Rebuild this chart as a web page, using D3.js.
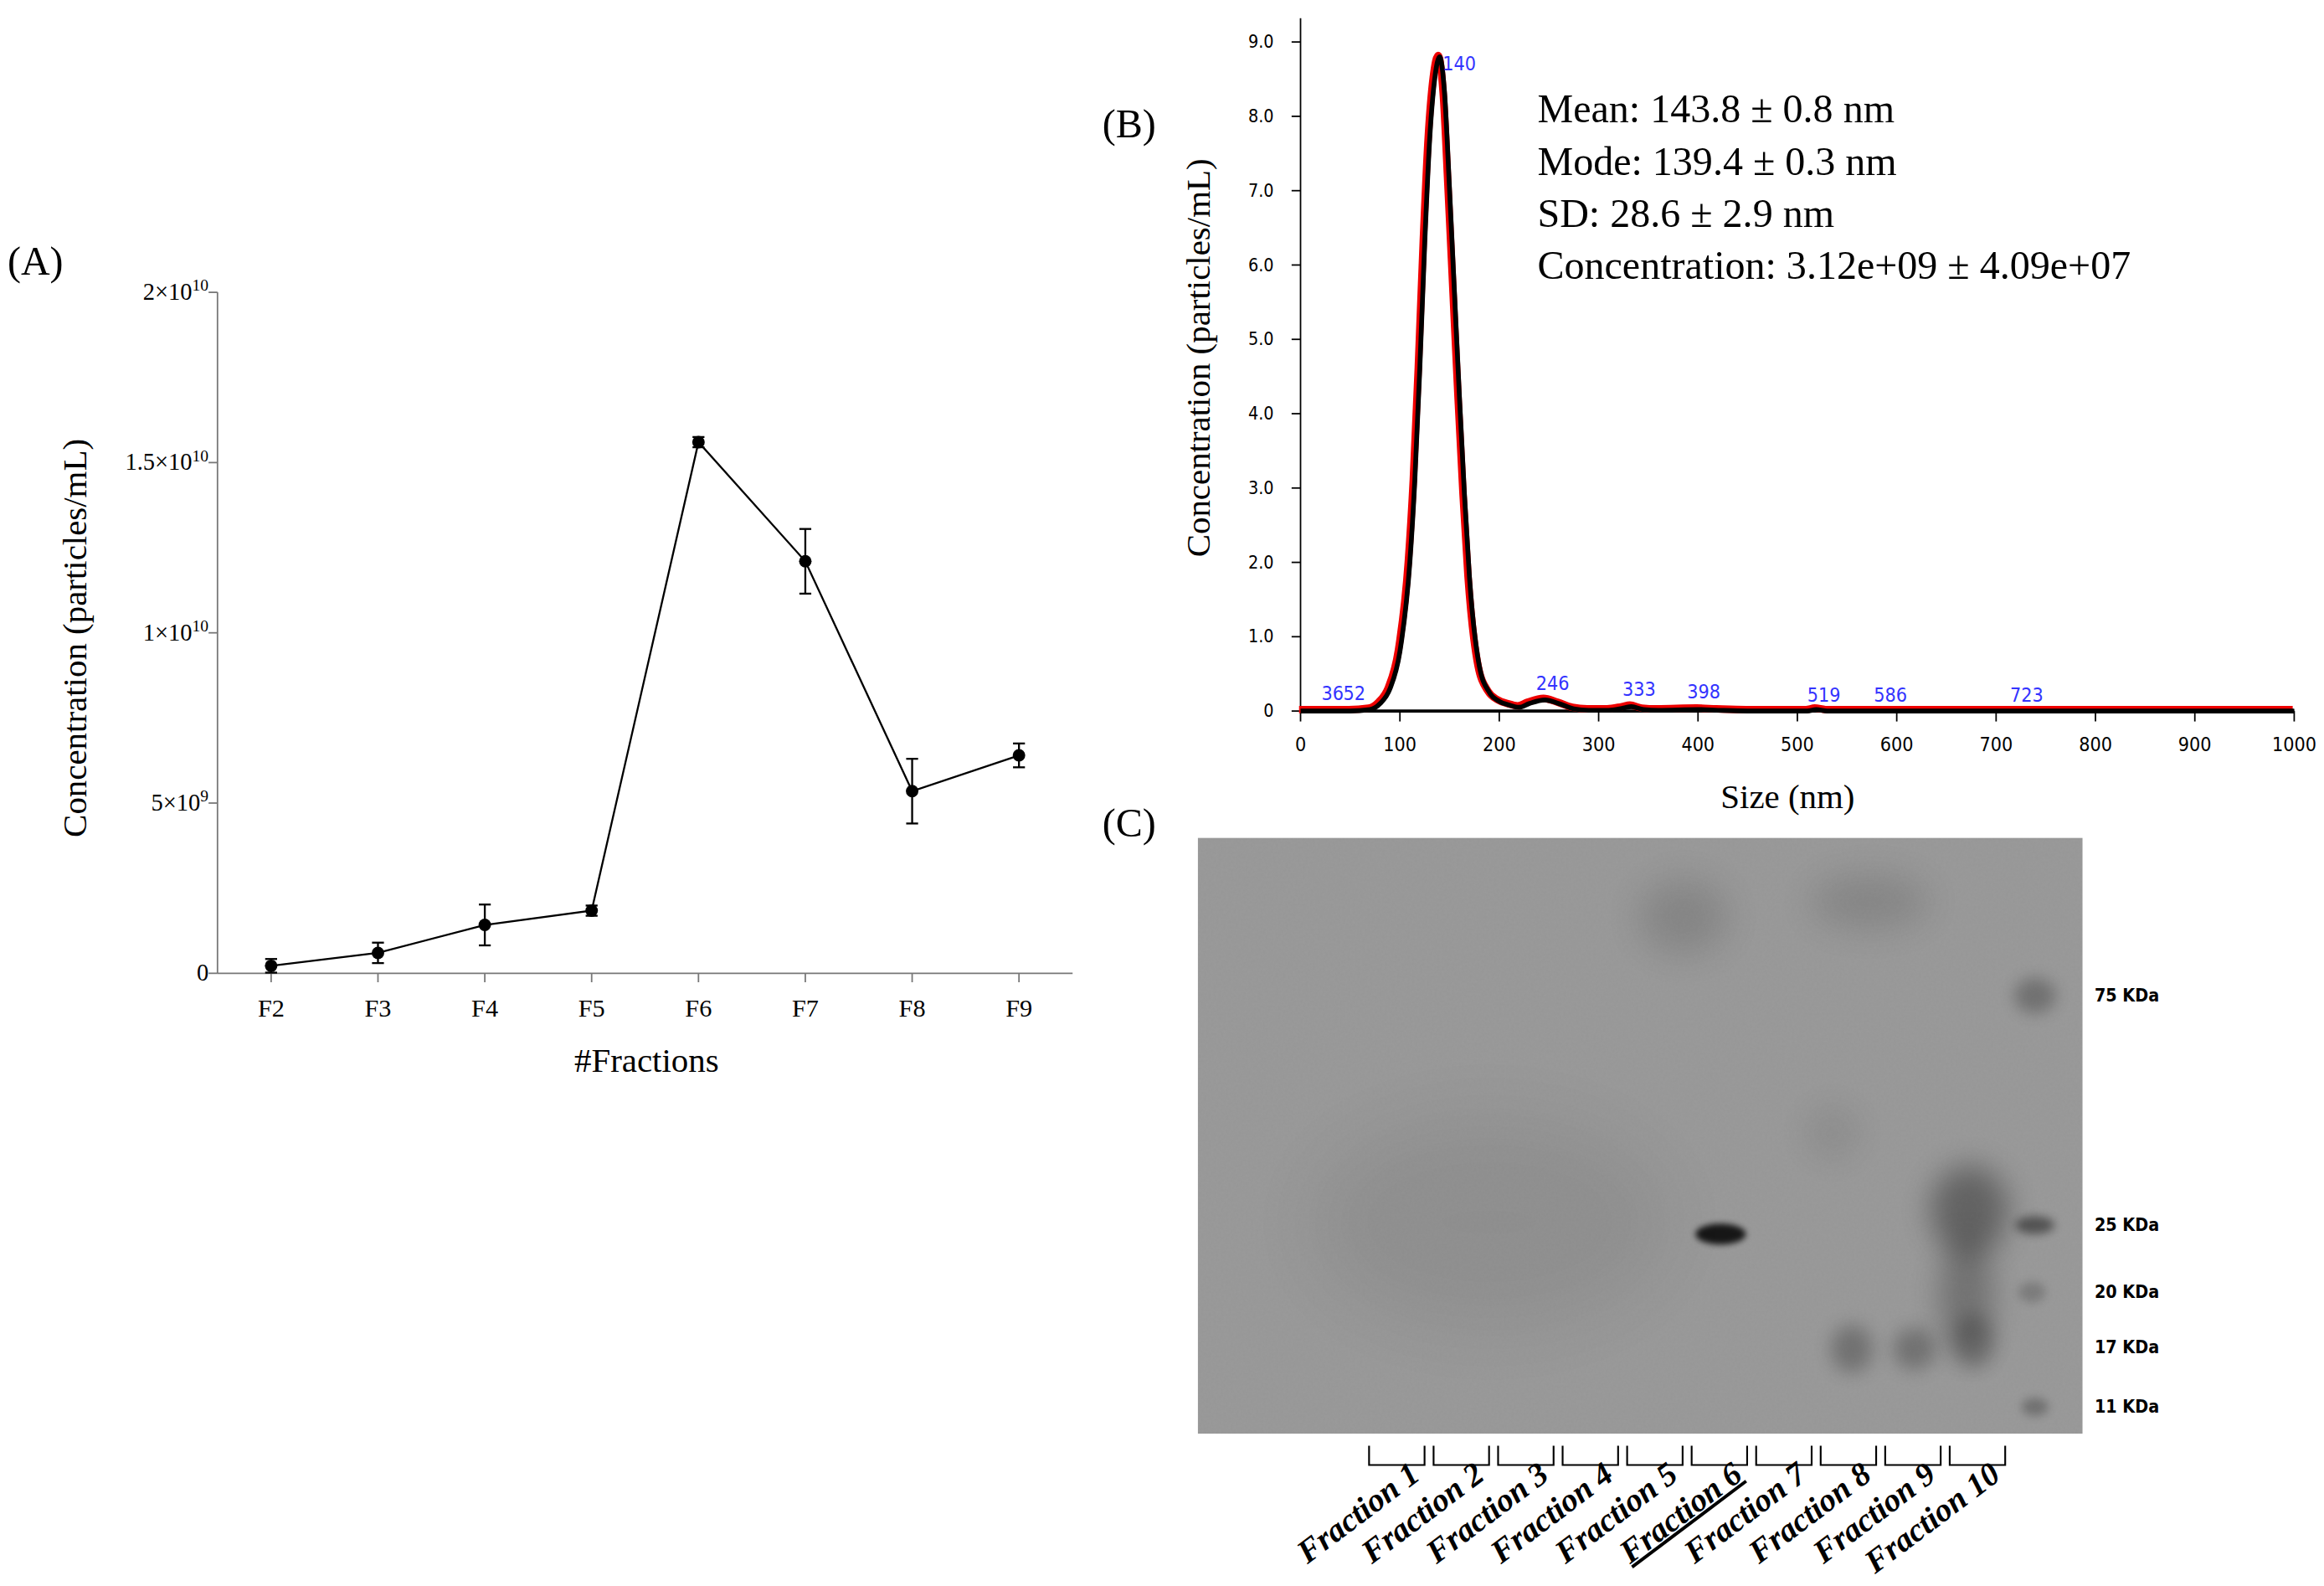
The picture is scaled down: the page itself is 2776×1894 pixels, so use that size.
<!DOCTYPE html>
<html><head><meta charset="utf-8">
<script src="https://cdn.jsdelivr.net/npm/d3@7"></script>
<style>body{margin:0;background:#fff}text{font-family:"Liberation Serif","Times New Roman",serif}</style>
</head><body>
<svg id="fig" width="2776" height="1894" viewBox="0 0 1560 1064"></svg>
<script>
// Panel A: NTA per fraction
const fractions = ["F2","F3","F4","F5","F6","F7","F8","F9"];
const fracConc = [0.22e9, 0.6e9, 1.42e9, 1.84e9, 15.6e9, 12.1e9, 5.35e9, 6.4e9];
const fracErr = [0.2e9, 0.3e9, 0.6e9, 0.15e9, 0.15e9, 0.95e9, 0.95e9, 0.35e9];
const aTicks = [0, 5e9, 1e10, 1.5e10, 2e10];
const aTickLabels = [["0",""],["5×10","9"],["1×10","10"],["1.5×10","10"],["2×10","10"]];

// Panel B: size distribution
const sizeNm = [0,50,70,80,90,100,110,115,120,125,130,135,140,145,150,155,160,165,170,180,190,200,210,220,230,246,260,275,290,310,325,333,345,360,400,420,450,510,519,530,600,1000];
const sizeConc = [0,0,0.02,0.1,0.3,0.8,2.0,3.1,4.6,6.3,7.7,8.5,8.8,8.3,7.0,5.6,4.2,2.9,1.8,0.6,0.25,0.13,0.08,0.05,0.1,0.15,0.1,0.03,0.01,0.01,0.04,0.06,0.02,0.01,0.02,0.01,0,0,0.02,0,0,0];
const peakLabels = [[36,"36"],[52,"52"],[140,"140"],[246,"246"],[333,"333"],[398,"398"],[519,"519"],[586,"586"],[723,"723"]];
const peakLabelY = [0.15,0.15,8.7,0.28,0.2,0.17,0.12,0.12,0.12];
const statsLines = ["Mean: 143.8 ±  0.8 nm","Mode: 139.4 ± 0.3 nm","SD: 28.6 ± 2.9 nm","Concentration: 3.12e+09 ± 4.09e+07"];

// Panel C: western blot
const lanes = ["Fraction 1","Fraction 2","Fraction 3","Fraction 4","Fraction 5","Fraction 6","Fraction 7","Fraction 8","Fraction 9","Fraction 10"];
const markers = [["75 KDa",668],["25 KDa",822],["20 KDa",867],["17 KDa",904],["11 KDa",944]];
// blobs: [x, y, rx, ry, darkness, blur]
const blobs = [
  [1155,828,17,7,0.85,2],[1322,812,26,30,0.35,10],[1320,870,18,40,0.25,10],
  [1243,905,14,16,0.25,6],[1285,905,14,14,0.25,6],[1325,900,14,18,0.22,6],
  [1366,668,14,12,0.25,5],[1366,822,13,6,0.45,3],[1364,867,9,7,0.18,3],[1366,944,9,6,0.25,3],
  [1130,615,30,25,0.12,12],[1255,605,40,18,0.12,12],[1000,820,120,70,0.06,25],[1230,760,20,20,0.06,10]
];

const svg = d3.select("#fig");
const defs = svg.append("defs");
[2,3,5,6,10,12,25].forEach(b => defs.append("filter").attr("id","blur"+b)
  .attr("x","-100%").attr("y","-100%").attr("width","300%").attr("height","300%")
  .append("feGaussianBlur").attr("stdDeviation", b));
const nf = defs.append("filter").attr("id","noise");
nf.append("feTurbulence").attr("type","fractalNoise").attr("baseFrequency",0.6).attr("numOctaves",2).attr("result","n");
nf.append("feColorMatrix").attr("type","matrix").attr("values","0 0 0 0 0.5  0 0 0 0 0.5  0 0 0 0 0.5  0 0 0 0.12 0");

// ---------- Panel A ----------
const ax = d3.scalePoint().domain(fractions).range([182, 684]);
const ay = d3.scaleLinear().domain([0, 2e10]).range([653, 196]);
const gA = svg.append("g");
gA.append("line").attr("x1",146).attr("x2",146).attr("y1",196).attr("y2",653).attr("stroke","#777");
gA.append("line").attr("x1",146).attr("x2",720).attr("y1",653).attr("y2",653).attr("stroke","#777");
aTicks.forEach((t,i) => {
  gA.append("line").attr("x1",140).attr("x2",146).attr("y1",ay(t)).attr("y2",ay(t)).attr("stroke","#777");
  const tx = gA.append("text").attr("x",140).attr("y",ay(t)+5).attr("text-anchor","end").attr("font-size",16);
  tx.append("tspan").text(aTickLabels[i][0]);
  if (aTickLabels[i][1]) tx.append("tspan").attr("dy",-6).attr("font-size",11).text(aTickLabels[i][1]);
});
fractions.forEach(f => {
  gA.append("line").attr("x1",ax(f)).attr("x2",ax(f)).attr("y1",653).attr("y2",659).attr("stroke","#777");
  gA.append("text").attr("x",ax(f)).attr("y",682).attr("text-anchor","middle").attr("font-size",17).text(f);
});
gA.append("path").datum(fractions.map((f,i)=>[ax(f),ay(fracConc[i])]))
  .attr("d",d3.line()).attr("fill","none").attr("stroke","#000").attr("stroke-width",1.3);
fractions.forEach((f,i) => {
  const x = ax(f), y1 = ay(fracConc[i]-fracErr[i]), y2 = ay(fracConc[i]+fracErr[i]);
  gA.append("line").attr("x1",x).attr("x2",x).attr("y1",y1).attr("y2",y2).attr("stroke","#000").attr("stroke-width",1.3);
  [y1,y2].forEach(y => gA.append("line").attr("x1",x-4).attr("x2",x+4).attr("y1",y).attr("y2",y).attr("stroke","#000").attr("stroke-width",1.3));
  gA.append("circle").attr("cx",x).attr("cy",ay(fracConc[i])).attr("r",4.2).attr("fill","#000");
});
gA.append("text").attr("x",5).attr("y",184).attr("font-size",27).text("(A)");
gA.append("text").attr("transform","translate(58,428) rotate(-90)").attr("text-anchor","middle").attr("font-size",23).text("Concentration (particles/mL)");
gA.append("text").attr("x",434).attr("y",719).attr("text-anchor","middle").attr("font-size",23).text("#Fractions");

// ---------- Panel B ----------
const bx = d3.scaleLinear().domain([0,1000]).range([873,1540]);
const by = d3.scaleLinear().domain([0,9]).range([477,28]);
const gB = svg.append("g");
gB.append("line").attr("x1",873).attr("x2",873).attr("y1",12).attr("y2",477).attr("stroke","#000");
gB.append("line").attr("x1",873).attr("x2",1540).attr("y1",477).attr("y2",477).attr("stroke","#000").attr("stroke-width",2);
d3.range(0,10).forEach(t => {
  gB.append("line").attr("x1",867).attr("x2",873).attr("y1",by(t)).attr("y2",by(t)).attr("stroke","#000");
  gB.append("text").attr("x",855).attr("y",by(t)+4).attr("text-anchor","end").attr("font-size",12)
    .style("font-family","'DejaVu Sans Condensed','Liberation Sans',sans-serif").text(t===0?"0":t.toFixed(1));
});
d3.range(0,1001,100).forEach(t => {
  gB.append("line").attr("x1",bx(t)).attr("x2",bx(t)).attr("y1",477).attr("y2",484).attr("stroke","#000");
  gB.append("text").attr("x",bx(t)).attr("y",504).attr("text-anchor","middle").attr("font-size",13)
    .style("font-family","'DejaVu Sans Condensed','Liberation Sans',sans-serif").text(t);
});
const bLine = d3.line().x((d,i)=>bx(sizeNm[i])).y(d=>by(d)).curve(d3.curveMonotoneX);
gB.append("path").datum(sizeConc).attr("d",bLine).attr("fill","none").attr("stroke","#e00").attr("stroke-width",5).attr("transform","translate(-1,-1)");
gB.append("path").datum(sizeConc).attr("d",bLine).attr("fill","none").attr("stroke","#000").attr("stroke-width",3.2);
peakLabels.forEach(([v,l],i) => gB.append("text").attr("x",bx(v)+(v===140?2:v===36?-10:-6)).attr("y",by(peakLabelY[i])-(v===140?-4:0))
  .attr("font-size",13).attr("fill","#33f").style("font-family","'DejaVu Sans Condensed','Liberation Sans',sans-serif").text(l));
statsLines.forEach((s,i) => gB.append("text").attr("x",1032).attr("y",82+i*35).attr("font-size",27).text(s));
gB.append("text").attr("x",740).attr("y",92).attr("font-size",27).text("(B)");
gB.append("text").attr("transform","translate(812,240) rotate(-90)").attr("text-anchor","middle").attr("font-size",23).text("Concentration (particles/mL)");
gB.append("text").attr("x",1200).attr("y",542).attr("text-anchor","middle").attr("font-size",23).text("Size (nm)");

// ---------- Panel C ----------
const gC = svg.append("g");
gC.append("text").attr("x",740).attr("y",561).attr("font-size",27).text("(C)");
const clip = defs.append("clipPath").attr("id","gelclip");
clip.append("rect").attr("x",804).attr("y",562).attr("width",594).attr("height",400);
const gel = gC.append("g").attr("clip-path","url(#gelclip)");
gel.append("rect").attr("x",804).attr("y",562).attr("width",594).attr("height",400).attr("fill","#969696");
gel.append("rect").attr("x",804).attr("y",562).attr("width",594).attr("height",400).attr("filter","url(#noise)");
blobs.forEach(([x,y,rx,ry,dk,b]) => gel.append("ellipse").attr("cx",x).attr("cy",y).attr("rx",rx).attr("ry",ry)
  .attr("fill","#000").attr("opacity",dk).attr("filter",`url(#blur${b})`));
markers.forEach(([l,y]) => gC.append("text").attr("x",1406).attr("y",y+4).attr("font-size",12).attr("font-weight","bold")
  .style("font-family","'DejaVu Sans Condensed','Liberation Sans',sans-serif").text(l));
const lx = d3.scaleBand().domain(lanes).range([919,1346]).paddingInner(0.14);
lanes.forEach((l,i) => {
  const x0 = lx(l), x1 = x0 + lx.bandwidth();
  gC.append("path").attr("d",`M${x0},970V983H${x1}V970`).attr("fill","none").attr("stroke","#000").attr("stroke-width",1.2);
  gC.append("text").attr("transform",`translate(${x1-2},${992}) rotate(-37)`).attr("text-anchor","end")
    .attr("font-size",22).attr("font-weight","bold").attr("font-style","italic")
    .attr("text-decoration", i===5 ? "underline" : null).text(l);
});
</script>
</body></html>
